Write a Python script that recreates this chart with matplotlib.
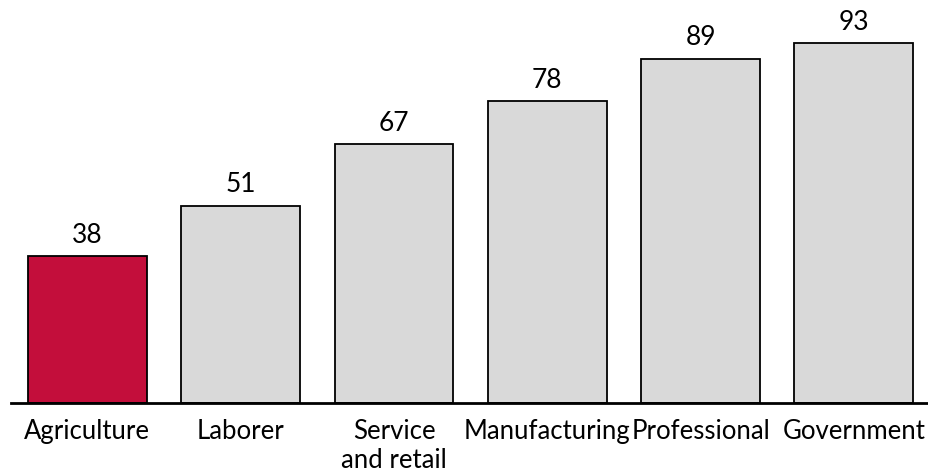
import numpy as np
import matplotlib.pyplot as plt

plt.rcParams['font.family'] = ['Lato', 'DejaVu Sans']

categories = ['Agriculture', 'Laborer', 'Service\nand retail', 'Manufacturing',
              'Professional', 'Government']
values = [38, 51, 67, 78, 89, 93]
colors = ['#C30E3B', '#D9D9D9', '#D9D9D9', '#D9D9D9', '#D9D9D9', '#D9D9D9']

fig = plt.figure(figsize=(9.29, 4.77), dpi=100)
ax = fig.add_axes([0.0116, 0.153, 0.99, 0.811])

index = np.arange(len(values))
bars = ax.bar(index, values, 0.775, color=colors, edgecolor='black', linewidth=1.3)
for i, v in enumerate(values):
    ax.text(i, v + 2.4, str(v), ha='center', va='bottom', fontsize=19)

ax.set_xlim(-0.5, len(values) - 0.5)
ax.set_ylim(0, 100)
ax.set_xticks(index)
ax.set_xticklabels(categories, fontsize=18.5, linespacing=1.2)
ax.tick_params(axis='x', length=0, pad=11)
ax.set_yticks([])
for s in ['top', 'right', 'left']:
    ax.spines[s].set_visible(False)
ax.spines['bottom'].set_linewidth(2)

fig.savefig('out.png', dpi=100)
